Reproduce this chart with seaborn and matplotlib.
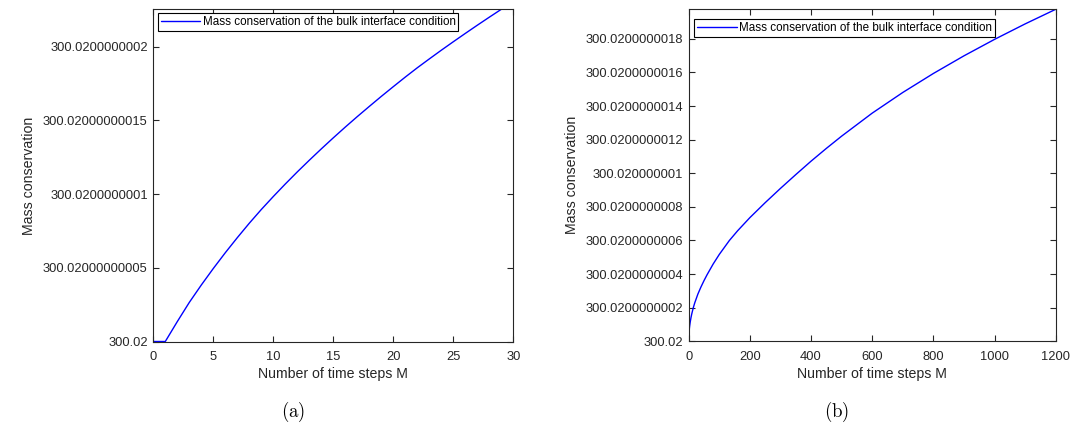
import numpy as np
import pandas as pd
import matplotlib
matplotlib.use('Agg')
import matplotlib.pyplot as plt
import seaborn as sns

# Panel (a): mass offset above 300.02, in units of 1e-10
steps_a = list(range(0, 30))
mass_a = [0.0, 0.0, 0.135, 0.265, 0.383, 0.495, 0.602, 0.704, 0.802, 0.895,
          0.983, 1.068, 1.150, 1.229, 1.306, 1.381, 1.454, 1.525, 1.594, 1.662,
          1.728, 1.793, 1.856, 1.916, 1.975, 2.0325, 2.089, 2.1445, 2.199, 2.2525]
yticks_a = [0.0, 0.5, 1.0, 1.5, 2.0]
yticklabels_a = ['300.02', '300.02000000005', '300.0200000001',
                 '300.02000000015', '300.0200000002']
xticks_a = [0, 5, 10, 15, 20, 25, 30]

# Panel (b): mass offset above 300.02, in units of 1e-10
steps_b = [0, 1, 2, 3, 5, 7.5, 10, 15, 20, 30, 40, 50, 60, 80, 100, 133, 160,
           200, 250, 300, 350, 400, 450, 500, 600, 700, 800, 900, 1000, 1100, 1200]
mass_b = [0.0, 0.52, 0.73, 0.89, 1.15, 1.41, 1.63, 2.0, 2.3, 2.81, 3.23, 3.61,
          3.96, 4.6, 5.17, 6.0, 6.58, 7.36, 8.25, 9.1, 9.92, 10.72, 11.48,
          12.21, 13.58, 14.81, 15.94, 16.99, 17.97, 18.89, 19.76]
yticks_b = [0, 2, 4, 6, 8, 10, 12, 14, 16, 18]
yticklabels_b = ['300.02', '300.0200000002', '300.0200000004', '300.0200000006',
                 '300.0200000008', '300.020000001', '300.0200000012',
                 '300.0200000014', '300.0200000016', '300.0200000018']
xticks_b = [0, 200, 400, 600, 800, 1000, 1200]

legend_label = 'Mass conservation of the bulk interface condition'

sns.set_theme(style='white')
plt.rcParams['font.family'] = ['Liberation Sans', 'DejaVu Sans']
plt.rcParams['mathtext.fontset'] = 'cm'
dark = '#262626'

fig = plt.figure(figsize=(10.8, 4.32), dpi=100)
W, H = 1080, 432

panels = [
    dict(rect=(153.3, 9.3, 513.3, 341.5), x=steps_a, y=mass_a, xlim=(0, 30),
         xticks=xticks_a, yticks=yticks_a, ylabels=yticklabels_a,
         leg=(4.3, 4.0), cap='(a)', capx=293),
    dict(rect=(688.7, 9.3, 1055.7, 341.3), x=steps_b, y=mass_b, xlim=(0, 1200),
         xticks=xticks_b, yticks=yticks_b, ylabels=yticklabels_b,
         leg=(5.7, 9.7), cap='(b)', capx=837),
]

for p in panels:
    x0, y0, x1, y1 = p['rect']
    ax = fig.add_axes([x0 / W, 1 - y1 / H, (x1 - x0) / W, (y1 - y0) / H])
    df = pd.DataFrame({'M': p['x'], 'mass': p['y']})
    sns.lineplot(data=df, x='M', y='mass', ax=ax, color='blue', linewidth=1.0,
                 label=legend_label)

    ax.set_xlim(*p['xlim'])
    ax.set_ylim(0, max(p['y']))
    ax.set_xticks(p['xticks'])
    ax.set_yticks(p['yticks'])
    ax.set_yticklabels(p['ylabels'])
    ax.tick_params(direction='in', length=4, width=0.8, color=dark,
                   labelsize=9.3, labelcolor=dark,
                   top=True, right=True, bottom=True, left=True)
    ax.tick_params(axis='y', pad=4)
    ax.tick_params(axis='x', pad=7)
    for s in ax.spines.values():
        s.set_visible(True)
        s.set_color(dark)
        s.set_linewidth(0.8)
    ax.set_xlabel('Number of time steps M', fontsize=10.2, color=dark, labelpad=3)
    ax.set_ylabel('Mass conservation', fontsize=10.2, color=dark, labelpad=5)

    dx, dy = p['leg']
    leg = ax.legend(loc='upper left',
                    bbox_to_anchor=(dx / (x1 - x0), 1 - dy / (y1 - y0)),
                    borderaxespad=0, fontsize=8.4, frameon=True, fancybox=False,
                    framealpha=1, edgecolor='black', handlelength=3.4,
                    handletextpad=0.2, borderpad=0.25)
    leg.get_frame().set_linewidth(0.8)
    for t in leg.get_texts():
        t.set_color('black')

    fig.text(p['capx'] / W, 1 - 412 / H, r'$\mathrm{' + p['cap'] + '}$',
             ha='center', va='center', fontsize=13.5, color='black')

fig.savefig('out.png', dpi=100)
